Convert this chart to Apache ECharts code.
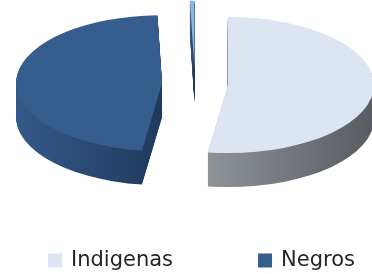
<!DOCTYPE html>
<html>
<head>
<meta charset="utf-8">
<script src="https://cdn.jsdelivr.net/npm/echarts@6/dist/echarts.min.js"></script>
<style>
html, body { margin: 0; padding: 0; background: #fff; }
#main { width: 372px; height: 274px; }
</style>
</head>
<body>
<div id="main"></div>
<script>
// slice data, clockwise from 12 o'clock
var categories = ['Indigenas', 'Negros', 'Otros'];
var values = [52.2, 47.3, 0.5];
var legendNames = ['Indigenas', 'Negros'];

// colours: top face, side gradient (left -> right)
var topColors = ['#dce6f2', '#355e8f', '#8fb4e3'];
var sideColors = [['#8e939a', '#585b60'], ['#33598a', '#203a5d'], ['#3d5f8a', '#1f3550']];

// 3d look
var cx = 195, cy = 84, rx = 146, ry = 68, depth = 34, explode = 33;
var k = ry / rx;

var chart = echarts.init(document.getElementById('main'));

var total = values.reduce(function (a, b) { return a + b; }, 0);
var acc = 0;
var series = categories.map(function (name, i) {
    var s = acc / total, e = (acc + values[i]) / total;
    acc += values[i];
    return {
        type: 'custom',
        name: name,
        coordinateSystem: 'none',
        itemStyle: { color: topColors[i] },
        z: i == 2 ? 1 : 2,
        data: [[s, e, values[i]]],
        renderItem: function (params, api) {
            var a0 = -Math.PI / 2 + api.value(0) * 2 * Math.PI;
            var a1 = -Math.PI / 2 + api.value(1) * 2 * Math.PI;
            var mid = (a0 + a1) / 2;
            var ox = explode * Math.cos(mid), oy = explode * Math.sin(mid);
            var children = [];
            var steps = 40, dl = depth / k;
            // side wall: stacked copies going down
            for (var j = steps; j >= 1; j--) {
                children.push({
                    type: 'sector',
                    shape: { cx: ox, cy: oy + dl * j / steps, r: rx, r0: 0, startAngle: a0, endAngle: a1, clockwise: true },
                    style: {
                        fill: new echarts.graphic.LinearGradient(0, 0, 1, 0, [
                            { offset: 0, color: sideColors[i][0] },
                            { offset: 1, color: sideColors[i][1] }
                        ])
                    }
                });
            }
            // top face
            children.push({
                type: 'sector',
                shape: { cx: ox, cy: oy, r: rx, r0: 0, startAngle: a0, endAngle: a1, clockwise: true },
                style: { fill: topColors[i] }
            });
            return { type: 'group', x: cx, y: cy, scaleY: k, children: children };
        }
    };
});

var option = {
    animation: false,
    legend: {
        data: legendNames,
        left: 43,
        top: 245,
        icon: 'rect',
        itemWidth: 14,
        itemHeight: 14,
        itemGap: 85,
        selectedMode: false,
        textStyle: { fontFamily: 'DejaVu Sans', fontSize: 21, color: '#262626', padding: [0, 0, 0, 4] }
    },
    series: series
};

chart.setOption(option);
</script>
</body>
</html>
